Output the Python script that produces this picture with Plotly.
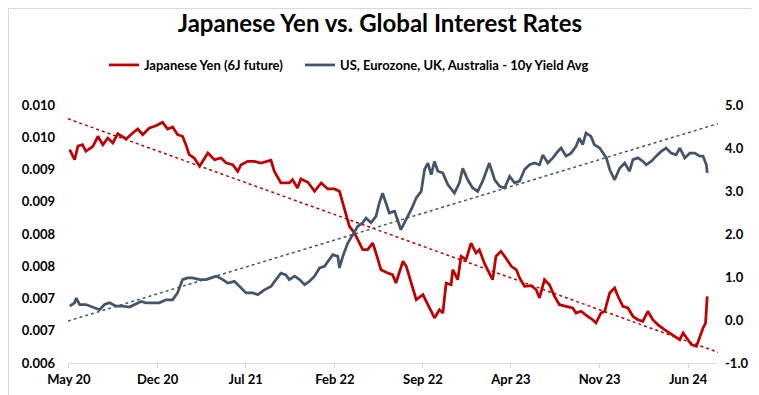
import numpy as np
import pandas as pd
import plotly.graph_objects as go

# ---- data ----
yen_dates = ["2020-05-20","2020-06-01","2020-06-09","2020-06-20","2020-06-28","2020-07-15","2020-07-27","2020-08-08","2020-08-20","2020-09-01",
             "2020-09-13","2020-10-03","2020-10-19","2020-10-31","2020-11-12","2020-11-28","2020-12-14","2020-12-30","2021-01-11","2021-01-23",
             "2021-02-04","2021-02-16","2021-02-24","2021-03-04","2021-03-16","2021-03-29","2021-04-18","2021-05-04","2021-05-20","2021-06-01",
             "2021-06-17","2021-06-29","2021-07-07","2021-07-23","2021-08-08","2021-08-24","2021-09-17","2021-09-25","2021-10-11","2021-10-31",
             "2021-11-08","2021-11-20","2021-11-28","2021-12-15","2021-12-31","2022-01-16","2022-02-01","2022-02-17","2022-03-01","2022-03-09",
             "2022-03-17","2022-03-25","2022-04-06","2022-04-14","2022-04-26","2022-05-08","2022-05-20","2022-05-28","2022-06-09","2022-06-25",
             "2022-07-07","2022-07-15","2022-08-01","2022-08-09","2022-08-21","2022-09-02","2022-09-18","2022-09-30","2022-10-16","2022-10-28",
             "2022-11-05","2022-11-13","2022-11-25","2022-11-29","2022-12-11","2022-12-19","2022-12-31","2023-01-12","2023-01-24","2023-02-01",
             "2023-02-13","2023-02-25","2023-03-05","2023-03-13","2023-03-25","2023-04-06","2023-04-19","2023-05-01","2023-05-09","2023-05-21",
             "2023-06-06","2023-06-18","2023-06-26","2023-07-08","2023-07-20","2023-08-01","2023-08-13","2023-08-29","2023-09-14","2023-09-22",
             "2023-10-04","2023-10-20","2023-11-01","2023-11-09","2023-11-21","2023-11-30","2023-12-12","2023-12-24","2024-01-01","2024-01-13",
             "2024-01-25","2024-02-06","2024-02-18","2024-03-01","2024-03-13","2024-03-25","2024-04-06","2024-04-22","2024-05-04","2024-05-16",
             "2024-05-29","2024-06-06","2024-06-18","2024-06-26","2024-07-08","2024-07-16","2024-07-24","2024-07-30","2024-08-03"]
yen_values = [0.009307,0.009152,0.009364,0.009385,0.009282,0.009360,0.009515,0.009385,0.009488,0.009411,
              0.009555,0.009473,0.009566,0.009628,0.009540,0.009643,0.009679,0.009732,0.009628,0.009659,
              0.009540,0.009515,0.009385,0.009229,0.009178,0.009050,0.009256,0.009152,0.009178,0.009101,
              0.009074,0.008972,0.009074,0.009127,0.009127,0.009101,0.009143,0.008972,0.008791,0.008791,
              0.008842,0.008713,0.008853,0.008802,0.008662,0.008791,0.008698,0.008698,0.008662,0.008481,
              0.008326,0.008119,0.008016,0.007912,0.007757,0.007757,0.007860,0.007705,0.007447,0.007395,
              0.007369,0.007240,0.007577,0.007499,0.007240,0.006981,0.007059,0.006904,0.006698,0.006826,
              0.006775,0.007240,0.007214,0.007447,0.007291,0.007654,0.007602,0.007860,0.007705,0.007757,
              0.007550,0.007395,0.007291,0.007654,0.007732,0.007628,0.007499,0.007447,0.007318,0.007189,
              0.007198,0.007136,0.007008,0.007291,0.007214,0.007034,0.006904,0.006879,0.006853,0.006775,
              0.006802,0.006724,0.006671,0.006620,0.006775,0.006802,0.007085,0.007163,0.007034,0.006879,
              0.006853,0.006724,0.006671,0.006646,0.006802,0.006671,0.006594,0.006516,0.006465,0.006414,
              0.006361,0.006465,0.006361,0.006284,0.006259,0.006414,0.006543,0.006620,0.007034]

yield_dates = ["2020-05-20","2020-06-01","2020-06-05","2020-06-13","2020-06-28","2020-07-15","2020-07-31","2020-08-12","2020-08-24","2020-09-09",
               "2020-09-25","2020-10-11","2020-10-23","2020-11-08","2020-11-20","2020-12-06","2020-12-22","2021-01-07","2021-01-23","2021-02-04",
               "2021-02-16","2021-02-28","2021-03-12","2021-03-29","2021-04-14","2021-04-26","2021-05-08","2021-05-24","2021-06-05","2021-06-21",
               "2021-07-07","2021-07-19","2021-08-04","2021-08-16","2021-09-01","2021-09-17","2021-09-29","2021-10-11","2021-10-23","2021-10-31",
               "2021-11-13","2021-11-25","2021-12-07","2021-12-19","2021-12-31","2022-01-12","2022-01-24","2022-02-05","2022-02-13","2022-02-25",
               "2022-03-01","2022-03-09","2022-03-21","2022-04-02","2022-04-14","2022-04-26","2022-05-04","2022-05-16","2022-05-28","2022-06-05",
               "2022-06-13","2022-06-21","2022-06-29","2022-07-12","2022-07-19","2022-07-27","2022-08-08","2022-08-21","2022-09-02","2022-09-14",
               "2022-09-22","2022-09-30","2022-10-08","2022-10-16","2022-10-24","2022-11-05","2022-11-17","2022-12-03","2022-12-15","2022-12-23",
               "2023-01-04","2023-01-16","2023-01-28","2023-02-09","2023-02-25","2023-03-10","2023-03-22","2023-04-03","2023-04-15","2023-04-27",
               "2023-05-09","2023-05-21","2023-06-02","2023-06-14","2023-06-26","2023-07-04","2023-07-16","2023-07-28","2023-08-09","2023-08-17",
               "2023-08-29","2023-09-10","2023-09-22","2023-09-30","2023-10-08","2023-10-16","2023-10-28","2023-11-05","2023-11-18","2023-11-26",
               "2023-12-04","2023-12-12","2023-12-24","2024-01-05","2024-01-17","2024-01-29","2024-02-06","2024-02-18","2024-03-01","2024-03-09",
               "2024-03-21","2024-04-02","2024-04-14","2024-04-26","2024-05-08","2024-05-20","2024-05-29","2024-06-10","2024-06-22","2024-07-04",
               "2024-07-16","2024-07-24","2024-08-01","2024-08-03"]
yield_values = [0.32,0.40,0.51,0.36,0.36,0.30,0.24,0.36,0.40,0.32,
                0.32,0.30,0.36,0.43,0.40,0.40,0.40,0.47,0.47,0.63,
                0.94,0.98,0.98,0.94,0.94,0.98,1.02,0.94,0.86,0.90,
                0.74,0.63,0.63,0.59,0.70,0.78,0.94,1.09,1.05,0.94,
                1.02,0.94,0.82,0.90,1.02,1.21,1.25,1.40,1.52,1.48,
                1.21,1.48,1.79,1.98,2.18,2.26,2.37,2.26,2.41,2.72,
                2.95,2.72,2.49,2.53,2.33,2.10,2.33,2.57,2.84,2.99,
                3.50,3.65,3.38,3.69,3.46,3.42,3.15,2.95,3.19,3.53,
                3.26,3.07,2.99,3.23,3.65,3.26,3.11,3.07,3.34,3.19,
                3.23,3.50,3.61,3.65,3.61,3.84,3.65,3.77,3.92,4.00,
                3.81,3.88,4.04,4.23,4.08,4.35,4.27,4.08,4.00,3.88,
                3.77,3.50,3.26,3.53,3.65,3.46,3.73,3.77,3.69,3.61,
                3.69,3.81,3.92,4.00,3.88,3.84,4.00,3.77,3.88,3.88,
                3.81,3.81,3.61,3.42]

series_names = ["Japanese Yen (6J future)", "US, Eurozone, UK, Australia - 10y Yield Avg"]
x_tick_dates = ["2020-05-18","2020-12-18","2021-07-18","2022-02-18","2022-09-18","2023-04-18","2023-11-18","2024-06-18"]
x_tick_labels = ["May 20","Dec 20","Jul 21","Feb 22","Sep 22","Apr 23","Nov 23","Jun 24"]
left_tick_values = [0.0060,0.0065,0.0070,0.0075,0.0080,0.0085,0.0090,0.0095,0.0100]
left_tick_labels = ["0.006","0.007","0.007","0.008","0.008","0.009","0.009","0.010","0.010"]
right_tick_values = [-1,0,1,2,3,4,5]
right_tick_labels = ["-1.0","0.0","1.0","2.0","3.0","4.0","5.0"]
x_range = ["2020-05-16","2024-08-29"]

assert len(yen_dates) == len(yen_values)
assert len(yield_dates) == len(yield_values)

RED = "#C00000"
BLUE = "#44546A"
FONT = "Lato"


def linear_trend(dates, values):
    t0 = pd.Timestamp(x_range[0])
    d = (pd.to_datetime(dates) - t0).days.to_numpy(dtype=float)
    slope, intercept = np.polyfit(d, np.asarray(values, dtype=float), 1)
    ends = pd.to_datetime(x_range)
    ed = (ends - t0).days.to_numpy(dtype=float)
    return list(ends), list(slope * ed + intercept)


fig = go.Figure()
fig.add_trace(go.Scatter(x=yen_dates, y=yen_values, mode="lines", name="<b>" + series_names[0] + "</b>",
                         line=dict(color=RED, width=2.75), yaxis="y", legend="legend"))
fig.add_trace(go.Scatter(x=yield_dates, y=yield_values, mode="lines", name="<b>" + series_names[1] + "</b>",
                         line=dict(color=BLUE, width=2.75), yaxis="y2", legend="legend2"))
tx, ty = linear_trend(yen_dates, yen_values)
fig.add_trace(go.Scatter(x=tx, y=ty, mode="lines", showlegend=False, hoverinfo="skip",
                         line=dict(color=RED, width=1.5, dash="dot"), yaxis="y"))
tx2, ty2 = linear_trend(yield_dates, yield_values)
fig.add_trace(go.Scatter(x=tx2, y=ty2, mode="lines", showlegend=False, hoverinfo="skip",
                         line=dict(color=BLUE, width=1.5, dash="dot"), yaxis="y2"))

W, H = 759, 395
ml, mr, mt, mb = 60, 49, 97, 40
pw, ph = W - ml - mr, H - mt - mb

tick_font = dict(size=13, family=FONT, color="black", weight="bold")
legend_common = dict(orientation="h", xref="container", xanchor="left", y=1 - 57 / H, yref="container",
                     yanchor="middle", font=dict(size=13, family=FONT, color="black"),
                     bgcolor="rgba(0,0,0,0)", itemwidth=30)

fig.update_layout(
    width=W, height=H,
    margin=dict(l=ml, r=mr, t=mt, b=mb),
    paper_bgcolor="white", plot_bgcolor="white",
    font=dict(family=FONT, color="black"),
    title=dict(text="<b>Japanese Yen vs. Global Interest Rates</b>", x=0.49, xref="container", xanchor="center",
               y=1 - 16 / H, yref="container", yanchor="middle", font=dict(size=24, family=FONT, color="black")),
    legend=dict(x=96 / W, **legend_common),
    legend2=dict(x=292 / W, **legend_common),
    showlegend=True,
    xaxis=dict(type="date", range=x_range, tickvals=x_tick_dates, ticktext=x_tick_labels,
               showgrid=False, zeroline=False, showline=True, linecolor="#D9D9D9", linewidth=1,
               ticks="outside", ticklen=4, tickcolor="#D9D9D9",
               tickfont=tick_font, ticklabelstandoff=0),
    yaxis=dict(range=[0.006, 0.010], tickvals=left_tick_values, ticktext=left_tick_labels,
               showgrid=False, zeroline=False, showline=False, ticks="",
               tickfont=tick_font, ticklabelstandoff=12),
    yaxis2=dict(range=[-1, 5], tickvals=right_tick_values, ticktext=right_tick_labels, overlaying="y", side="right",
                showgrid=False, zeroline=False, showline=False, ticks="",
                tickfont=tick_font, ticklabelstandoff=6),
)

# thin border around the whole chart
fig.add_shape(type="rect", xref="paper", yref="paper",
              x0=(0.5 - ml) / pw, x1=(W - 0.5 - ml) / pw, y0=-(mb - 0.5) / ph, y1=1 + (mt - 0.5) / ph,
              line=dict(color="#D9D9D9", width=1), fillcolor="rgba(0,0,0,0)", layer="below")

fig.write_html("out.html")
